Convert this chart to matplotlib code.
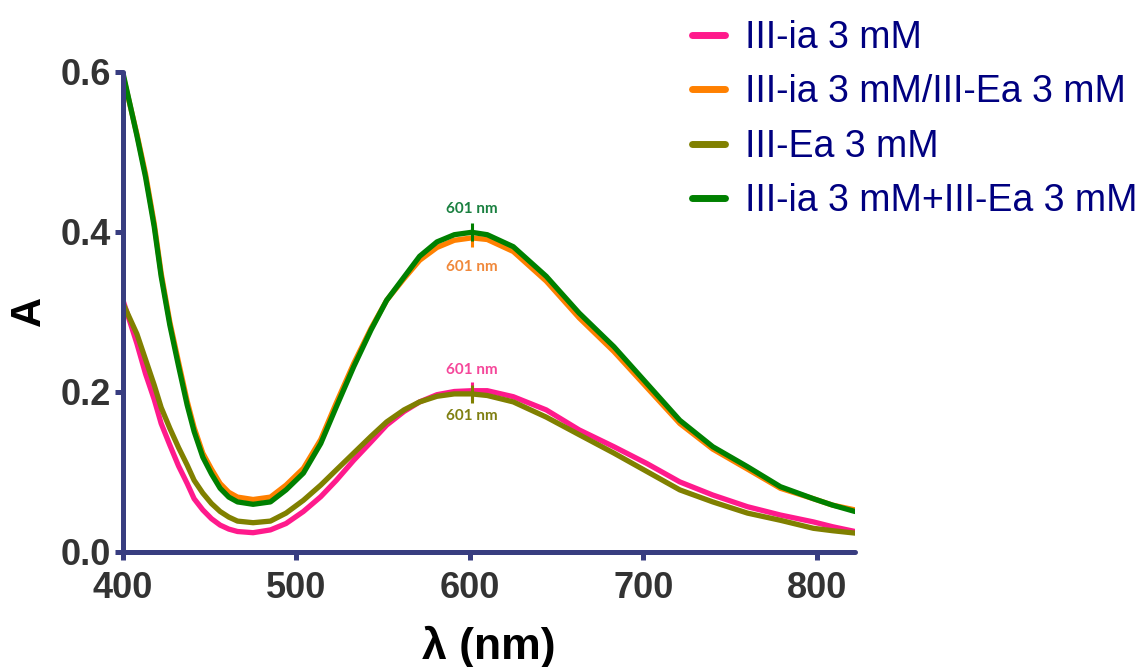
import matplotlib
matplotlib.use("Agg")
import matplotlib.pyplot as plt

# ---- data ----
wavelength = [400, 408, 413, 418, 422, 427, 432, 437, 441, 446,
              451, 456, 461, 466, 475, 485, 494, 504, 514, 523,
              533, 543, 552, 562, 571, 581, 591, 601, 610, 625,
              644, 663, 683, 702, 721, 740, 760, 779, 798, 809, 822]

ia_3mM = [0.314, 0.260, 0.222, 0.190, 0.160, 0.133, 0.107, 0.085, 0.066, 0.052,
          0.041, 0.033, 0.028, 0.025, 0.0235, 0.027, 0.035, 0.050, 0.0685, 0.089,
          0.114, 0.137, 0.158, 0.175, 0.187, 0.196, 0.200, 0.201, 0.201, 0.1935,
          0.177, 0.152, 0.131, 0.110, 0.087, 0.0706, 0.056, 0.0456, 0.037, 0.031, 0.025]

ia_slash_Ea = [0.595, 0.522, 0.472, 0.410, 0.348, 0.287, 0.237, 0.188, 0.155, 0.123,
               0.103, 0.085, 0.074, 0.068, 0.065, 0.068, 0.083, 0.104, 0.140, 0.186,
               0.235, 0.279, 0.314, 0.341, 0.364, 0.380, 0.389, 0.392, 0.390, 0.375,
               0.338, 0.292, 0.250, 0.205, 0.160, 0.128, 0.103, 0.079, 0.066, 0.058, 0.052]

Ea_3mM = [0.310, 0.272, 0.240, 0.208, 0.180, 0.154, 0.130, 0.108, 0.089, 0.073,
          0.060, 0.050, 0.043, 0.038, 0.036, 0.038, 0.048, 0.064, 0.083, 0.102,
          0.123, 0.144, 0.162, 0.177, 0.187, 0.194, 0.197, 0.197, 0.195, 0.187,
          0.168, 0.146, 0.123, 0.100, 0.077, 0.062, 0.048, 0.039, 0.029, 0.026, 0.023]

ia_plus_Ea = [0.598, 0.520, 0.468, 0.406, 0.344, 0.283, 0.232, 0.183, 0.150, 0.118,
              0.097, 0.079, 0.068, 0.062, 0.059, 0.062, 0.077, 0.098, 0.135, 0.181,
              0.231, 0.277, 0.314, 0.343, 0.369, 0.387, 0.396, 0.399, 0.396, 0.381,
              0.344, 0.298, 0.256, 0.210, 0.164, 0.131, 0.106, 0.081, 0.066, 0.058, 0.050]

series_labels = ["III-ia 3 mM", "III-ia 3 mM/III-Ea 3 mM", "III-Ea 3 mM", "III-ia 3 mM+III-Ea 3 mM"]
series_values = [ia_3mM, ia_slash_Ea, Ea_3mM, ia_plus_Ea]
series_colors = ["#ff1a8c", "#ff8000", "#808000", "#008000"]
label_colors = ["#f5479a", "#f0883a", "#7f7f10", "#1a8040"]

peak_nm = 601
peak_values = [0.201, 0.392, 0.197, 0.399]
peak_label_y = [0.227, 0.356, 0.169, 0.428]

x_ticks = [400, 500, 600, 700, 800]
y_ticks = [0.0, 0.2, 0.4, 0.6]

# ---- figure ----
fig = plt.figure(figsize=(11.48, 6.67), dpi=100)
ax = fig.add_axes([123 / 1148, 1 - 551.5 / 667, 732 / 1148, 480 / 667])

spine_color = "#383d80"
for vals, lab, col in zip(series_values, series_labels, series_colors):
    ax.plot(wavelength, vals, color=col, lw=3.8, label=lab,
            solid_capstyle="round", solid_joinstyle="round")

# peak markers and labels
for pv, ly, col, lcol in zip(peak_values, peak_label_y, series_colors, label_colors):
    ax.plot([peak_nm], [pv], marker="|", ms=13, mew=2.2, color=col, linestyle="none")
    ax.text(peak_nm, ly, f"{peak_nm} nm", color=lcol, fontsize=11, fontweight="bold",
            family="Lato", ha="center", va="center")

ax.set_xlim(400, 822)
ax.set_ylim(0, 0.6)
ax.set_xticks(x_ticks)
ax.set_yticks(y_ticks)
ax.set_xticklabels([str(t) for t in x_ticks])
ax.set_yticklabels([f"{t:.1f}" for t in y_ticks])

for s in ["top", "right"]:
    ax.spines[s].set_visible(False)
for s in ["left", "bottom"]:
    ax.spines[s].set_color(spine_color)
    ax.spines[s].set_linewidth(3.6)
    ax.spines[s].set_capstyle("round")

ax.tick_params(axis="both", direction="out", length=6, width=3.6, color=spine_color,
               labelcolor="#333333", labelsize=26)
ax.tick_params(axis="x", pad=8)
ax.tick_params(axis="y", pad=3)
for lbl in ax.get_xticklabels() + ax.get_yticklabels():
    lbl.set_fontweight("bold")
    lbl.set_family("Liberation Sans")

ax.set_xlabel("λ (nm)", fontsize=32, fontweight="bold", family="Liberation Sans", labelpad=14)
ax.set_ylabel("A", fontsize=30, fontweight="bold", family="Liberation Sans", labelpad=8)

leg = fig.legend(loc="upper left", bbox_to_anchor=(692 / 1148, 1 - 20 / 667),
                 frameon=False, handlelength=0.88, handletextpad=0.53,
                 labelspacing=0.49, borderpad=0, borderaxespad=0,
                 prop={"family": "Liberation Sans", "size": 27})
for t in leg.get_texts():
    t.set_color("#000080")
for h in leg.get_lines():
    h.set_linewidth(5)

fig.savefig("out.png", dpi=100)
